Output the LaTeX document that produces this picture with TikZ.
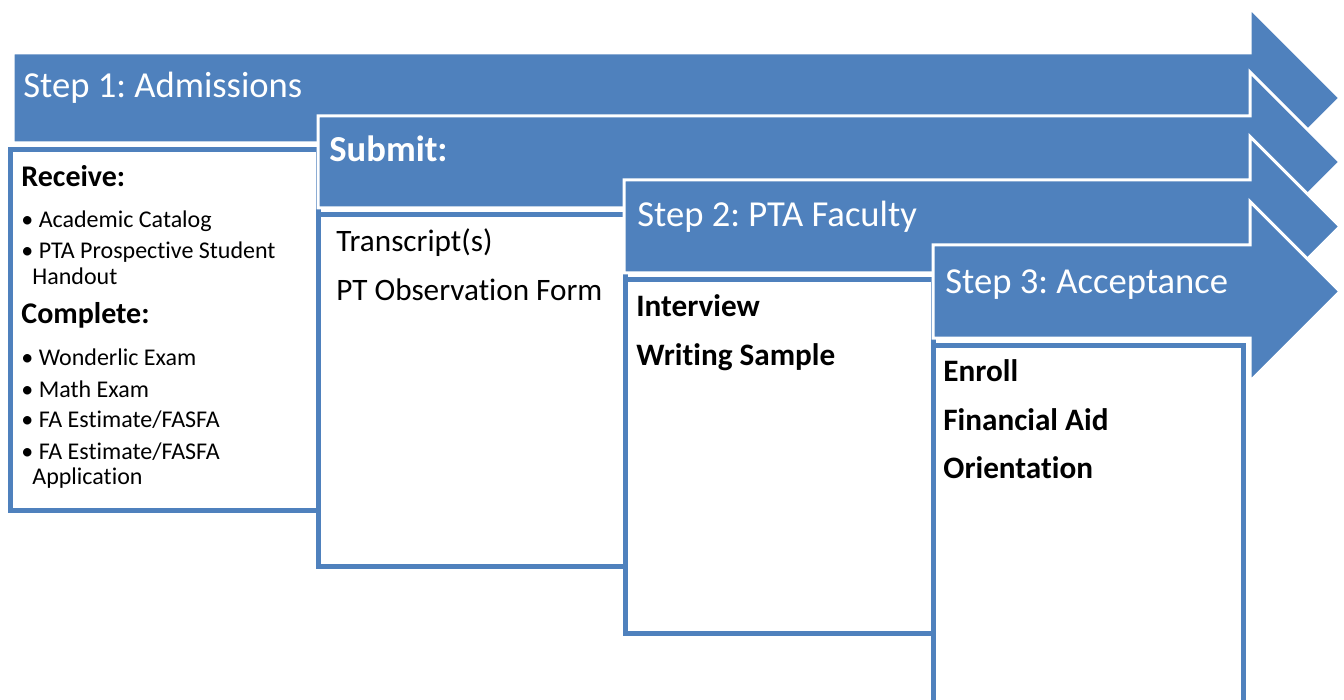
\documentclass[tikz,border=0pt]{standalone}
\usepackage{fontspec}
\setmainfont{Carlito}[RawFeature=-liga]
\frenchspacing
\usepackage{tikz}
\usetikzlibrary{positioning}
\definecolor{stepblue}{RGB}{79, 129, 189}

\tikzset{
  steparrow/.style={fill=stepblue, draw=white, line width=1.5pt, line join=miter},
  stepbox/.style={fill=white, draw=stepblue, line width=2.5pt},
  steptitle/.style={anchor=base west, inner sep=0pt, text=white, font=\fontsize{18.3}{22}\selectfont},
  boxhead/.style={anchor=base west, inner sep=0pt, font=\fontsize{15}{18}\selectfont\bfseries},
  boxitem/.style={anchor=base west, inner sep=0pt, font=\fontsize{12}{14}\selectfont},
  boxline/.style={anchor=base west, inner sep=0pt, font=\fontsize{15.6}{19}\selectfont},
  boxbold/.style={boxline, font=\fontsize{15.6}{19}\selectfont\bfseries}
}

\begin{document}
\begin{tikzpicture}[x=0.5pt, y=-0.5pt]
  \useasboundingbox (0, 0) rectangle (1344, 700);

  % Step 1 arrow + box
  \draw[steparrow] (13, 53) -- (1250, 53) -- (1250, 8) -- (1340, 98)
    -- (1250, 188) -- (1250, 143) -- (13, 143) -- cycle;
  \node[steptitle] (title1) at (23, 98) {Step 1: Admissions};
  \draw[stepbox] (10, 150) rectangle (318, 510);
  \node[boxhead] (receive) at (21, 187) {Receive:};
  \node[boxitem] (catalog) at (21, 228) {• Academic Catalog};
  \node[boxitem] (handout) at (21, 259) {• PTA Prospective Student};
  \node[boxitem] (handout2) at (32, 285) {Handout};
  \node[boxhead] (complete) at (21, 323) {Complete:};
  \node[boxitem] (wonderlic) at (21, 365) {• Wonderlic Exam};
  \node[boxitem] (math) at (21, 397) {• Math Exam};
  \node[boxitem] (fafsa) at (21, 427) {• FA Estimate/FASFA};
  \node[boxitem] (fafsaapp) at (21, 459) {• FA Estimate/FASFA};
  \node[boxitem] (fafsaapp2) at (32, 484) {Application};

  % Submit arrow + box
  \draw[steparrow] (318, 116) -- (1250, 116) -- (1250, 72) -- (1340, 162)
    -- (1250, 252) -- (1250, 208) -- (318, 208) -- cycle;
  \node[steptitle, font=\fontsize{18.3}{22}\selectfont\bfseries] (title2) at (329, 162) {Submit:};
  \draw[stepbox] (318, 215) rectangle (625, 566);
  \node[boxline] (transcript) at (336, 252) {Transcript(s)};
  \node[boxline] (observation) at (336, 300) {PT Observation Form};

  % Step 2 arrow + box
  \draw[steparrow] (624, 180) -- (1250, 180) -- (1250, 136.5) -- (1340, 226.5)
    -- (1250, 316.5) -- (1250, 273) -- (624, 273) -- cycle;
  \node[steptitle] (title3) at (637, 227) {Step 2: PTA Faculty};
  \draw[stepbox] (625, 280) rectangle (933, 633);
  \node[boxbold] (interview) at (636, 316) {Interview};
  \node[boxbold] (writing) at (636, 365) {Writing Sample};

  % Step 3 arrow + box
  \draw[steparrow] (933, 245) -- (1250, 245) -- (1250, 201.5) -- (1340, 291.5)
    -- (1250, 381.5) -- (1250, 338) -- (933, 338) -- cycle;
  \node[steptitle] (title4) at (945, 293) {Step 3: Acceptance};
  \draw[stepbox] (933, 345) rectangle (1243, 720);
  \node[boxbold] (enroll) at (943, 381) {Enroll};
  \node[boxbold] (finaid) at (943, 430) {Financial Aid};
  \node[boxbold] (orient) at (943, 478) {Orientation};
\end{tikzpicture}
\end{document}
